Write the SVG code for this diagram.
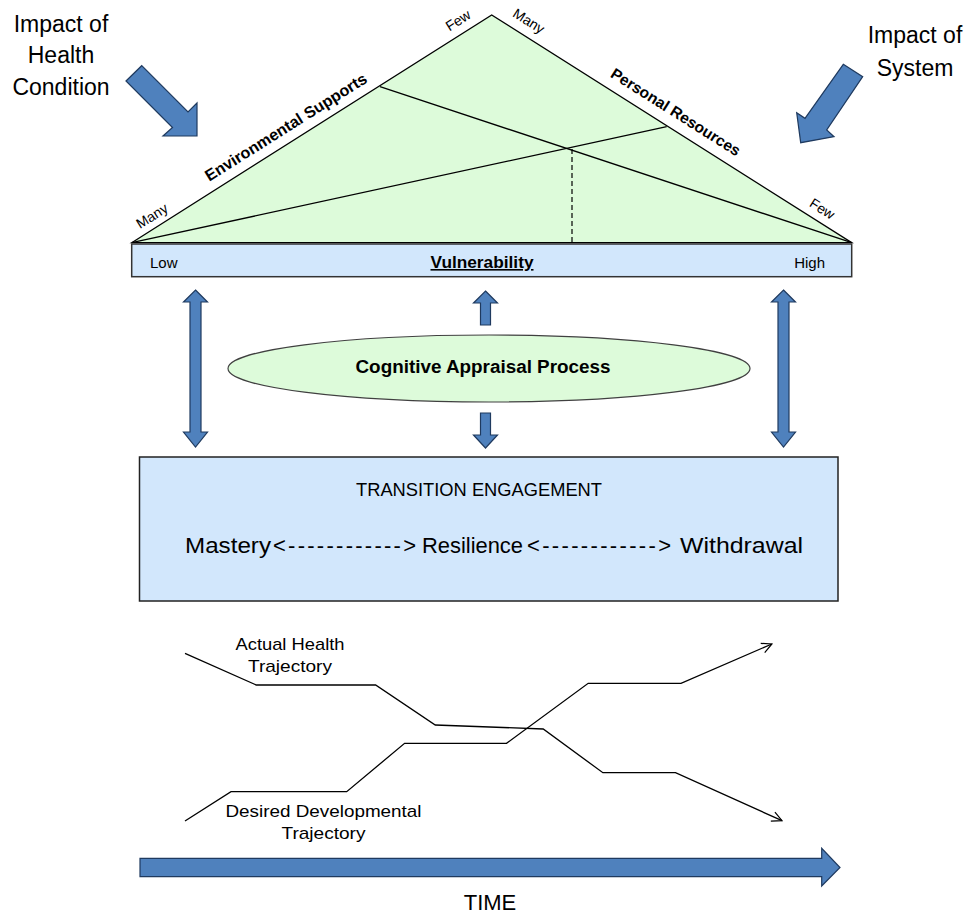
<svg xmlns="http://www.w3.org/2000/svg" width="969" height="915" viewBox="0 0 969 915">
<style>
  .t{font-family:"Liberation Sans",Arial,sans-serif;fill:#000}
  .b{font-weight:bold}
  .blue{fill:#4F81BD;stroke:#1F3A5F;stroke-width:1.2;stroke-linejoin:miter}
  .ln{fill:none;stroke:#000;stroke-width:1.3}
</style>
<defs>
  <marker id="open" viewBox="0 0 12 12" refX="11" refY="6" markerWidth="12" markerHeight="12" markerUnits="userSpaceOnUse" orient="auto">
    <path d="M1,1 L11,6 L1,11" fill="none" stroke="#000" stroke-width="1.2"/>
  </marker>
</defs>
<rect width="969" height="915" fill="#fff"/>

<!-- impact labels -->
<g id="impact-health">
  <text class="t" x="61" y="32" font-size="23" text-anchor="middle">Impact of</text>
  <text class="t" x="61" y="63" font-size="23" text-anchor="middle">Health</text>
  <text class="t" x="61" y="95" font-size="23" text-anchor="middle">Condition</text>
  <polygon class="blue" points="126,81 141.7,65.7 188,112 197,103 197,136 163,136 172.5,127.5"/>
</g>
<g id="impact-system">
  <text class="t" x="915" y="43" font-size="23" text-anchor="middle">Impact of</text>
  <text class="t" x="915" y="76" font-size="23" text-anchor="middle">System</text>
  <polygon class="blue" points="843.3,64.3 862.7,76.7 826.7,130 834,136.7 800.7,142.7 796.7,112.7 805,118.3"/>
</g>

<!-- triangle -->
<g id="triangle">
  <polygon points="131.7,242.7 491.7,15 851.7,242.7" fill="#DDFBDA" stroke="#000" stroke-width="1.3"/>
  <line class="ln" x1="380" y1="86.7" x2="851.7" y2="242.7"/>
  <line class="ln" x1="131.7" y1="242.7" x2="666.7" y2="126.7"/>
  <line x1="572" y1="149" x2="572" y2="243" stroke="#000" stroke-width="1.2" stroke-dasharray="5,3"/>
  <text class="t" font-size="14" text-anchor="middle" transform="translate(154.6,220) rotate(-32.2)">Many</text>
  <text class="t" font-size="14" text-anchor="middle" transform="translate(460.6,24.5) rotate(-32.2)">Few</text>
  <text class="t b" font-size="16" text-anchor="middle" textLength="188" lengthAdjust="spacingAndGlyphs" transform="translate(288.8,131.7) rotate(-32.2)">Environmental Supports</text>
  <text class="t" font-size="14" text-anchor="middle" transform="translate(526.3,25.1) rotate(32.3)">Many</text>
  <text class="t b" font-size="15.5" text-anchor="middle" textLength="150" lengthAdjust="spacingAndGlyphs" transform="translate(672.9,116.6) rotate(32.3)">Personal Resources</text>
  <text class="t" font-size="14" text-anchor="middle" transform="translate(819.7,212.9) rotate(32.3)">Few</text>
</g>

<!-- vulnerability bar -->
<g id="vulnerability">
  <rect x="131.7" y="244" width="720" height="32.7" fill="#D2E7FC" stroke="#333" stroke-width="1.5"/>
  <text class="t" x="150" y="268" font-size="15">Low</text>
  <text class="t" x="825" y="268" font-size="15" text-anchor="end">High</text>
  <text class="t b" x="482" y="268" font-size="16" text-anchor="middle" textLength="103" lengthAdjust="spacingAndGlyphs" text-decoration="underline">Vulnerability</text>
</g>

<!-- appraisal -->
<g id="appraisal">
  <ellipse cx="489" cy="368.5" rx="261" ry="33.5" fill="#DDFBDA" stroke="#404040" stroke-width="1.2"/>
  <text class="t b" x="483" y="373" font-size="18" text-anchor="middle" textLength="255" lengthAdjust="spacingAndGlyphs">Cognitive Appraisal Process</text>
</g>

<!-- connectors -->
<g id="connectors">
  <polygon class="blue" points="195.5,290 207.5,302 201,302 201,432 207.5,432 195.5,447 183.5,432 190,432 190,302 183.5,302"/>
  <polygon class="blue" points="783.5,290 795.5,302 789,302 789,432 795.5,432 783.5,447 771.5,432 778,432 778,302 771.5,302"/>
  <polygon class="blue" points="485.5,291 497.5,303 490.5,303 490.5,325 480.5,325 480.5,303 473.5,303"/>
  <polygon class="blue" points="480.5,413 490.5,413 490.5,435 497.5,435 485.5,448 473.5,435 480.5,435"/>
</g>

<!-- transition engagement -->
<g id="engagement">
  <rect x="139.5" y="457" width="698.5" height="144" fill="#D2E7FC" stroke="#222" stroke-width="1.5"/>
  <text class="t" x="479" y="496" font-size="18" text-anchor="middle" textLength="246" lengthAdjust="spacingAndGlyphs">TRANSITION ENGAGEMENT</text>
  <text class="t" x="185" y="553" font-size="22" textLength="86" lengthAdjust="spacingAndGlyphs">Mastery</text>
  <text class="t" x="273" y="553" font-size="22" textLength="143">&lt;------------&gt;</text>
  <text class="t" x="422" y="553" font-size="22" textLength="101" lengthAdjust="spacingAndGlyphs">Resilience</text>
  <text class="t" x="527" y="553" font-size="22" textLength="144">&lt;------------&gt;</text>
  <text class="t" x="680" y="553" font-size="22" textLength="123" lengthAdjust="spacingAndGlyphs">Withdrawal</text>
</g>

<!-- trajectories -->
<g id="actual-trajectory">
  <polyline class="ln" points="185,653.3 256.3,685 375.6,685 435.3,725 543.2,729 602.9,772.7 675.5,772.7 782,820.7" marker-end="url(#open)"/>
  <text class="t" x="290" y="650" font-size="17" text-anchor="middle" textLength="109" lengthAdjust="spacingAndGlyphs">Actual Health</text>
  <text class="t" x="290" y="672" font-size="17" text-anchor="middle" textLength="84" lengthAdjust="spacingAndGlyphs">Trajectory</text>
</g>
<g id="desired-trajectory">
  <polyline class="ln" points="185,821 231,791.7 346.7,791.7 404.6,743.3 506.5,743.3 588.2,683.3 681,683.3 771.9,644" marker-end="url(#open)"/>
  <text class="t" x="323.5" y="817" font-size="17" text-anchor="middle" textLength="196" lengthAdjust="spacingAndGlyphs">Desired Developmental</text>
  <text class="t" x="323.5" y="838.5" font-size="17" text-anchor="middle" textLength="84" lengthAdjust="spacingAndGlyphs">Trajectory</text>
</g>

<!-- time -->
<g id="time">
  <polygon class="blue" points="140,858.3 821.7,858.3 821.7,848.3 840,867.5 821.7,886 821.7,876.7 140,876.7"/>
  <text class="t" x="490" y="910" font-size="22" text-anchor="middle">TIME</text>
</g>
</svg>
